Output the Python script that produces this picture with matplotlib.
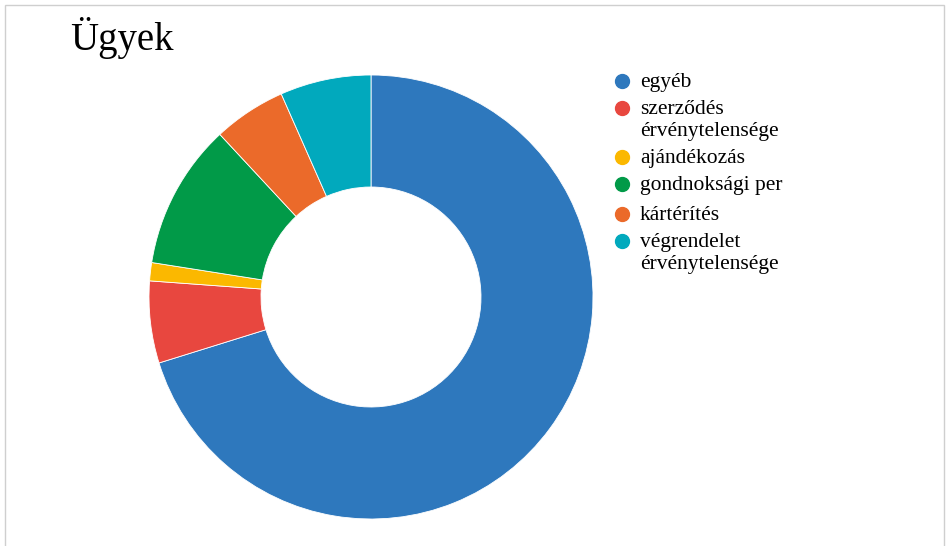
import matplotlib.pyplot as plt
from matplotlib.lines import Line2D
from matplotlib.patches import Rectangle

# adatok
labels = ["egyéb", "szerződés\nérvénytelensége", "ajándékozás", "gondnoksági per",
          "kártérítés", "végrendelet\nérvénytelensége"]
values = [106, 9, 2, 16, 8, 10]
colors = ["#2E78BD", "#E8473F", "#FBB800", "#019A48", "#EB6A2A", "#01A9BD"]

W, H = 946, 546
fig = plt.figure(figsize=(W / 100, H / 100), dpi=100)

# keret
fig.patches.append(Rectangle((5 / W, -0.01), 939 / W, 1 - 5 / H + 0.01, transform=fig.transFigure,
                             fill=False, edgecolor="#cfcfcf", linewidth=1))

# fánk diagram
cx, cy, r = 371, 297, 222
ax = fig.add_axes([(cx - r) / W, (H - cy - r) / H, 2 * r / W, 2 * r / H])
ax.pie(values, colors=colors, startangle=90, counterclock=False, radius=1,
       wedgeprops=dict(width=112 / 222, edgecolor="white", linewidth=0.6))
ax.set_xlim(-1, 1)
ax.set_ylim(-1, 1)
ax.set_aspect("equal")
ax.axis("off")

fig.text(70 / W, 1 - 50 / H, "Ügyek", family="Liberation Serif", fontsize=28, va="baseline")

# jelmagyarázat (kézzel, a sorközök miatt)
leg_y = [81, 108, 157, 184, 214, 241]
for lab, col, y in zip(labels, colors, leg_y):
    fig.lines.append(Line2D([622 / W], [1 - y / H], marker="o", markersize=10, color=col,
                            linestyle="", transform=fig.transFigure))
    fig.text(640 / W, 1 - (y - 8) / H, lab, family="Liberation Serif", fontsize=15.5,
             va="top", linespacing=1.2)

fig.savefig("out.png", dpi=100)
